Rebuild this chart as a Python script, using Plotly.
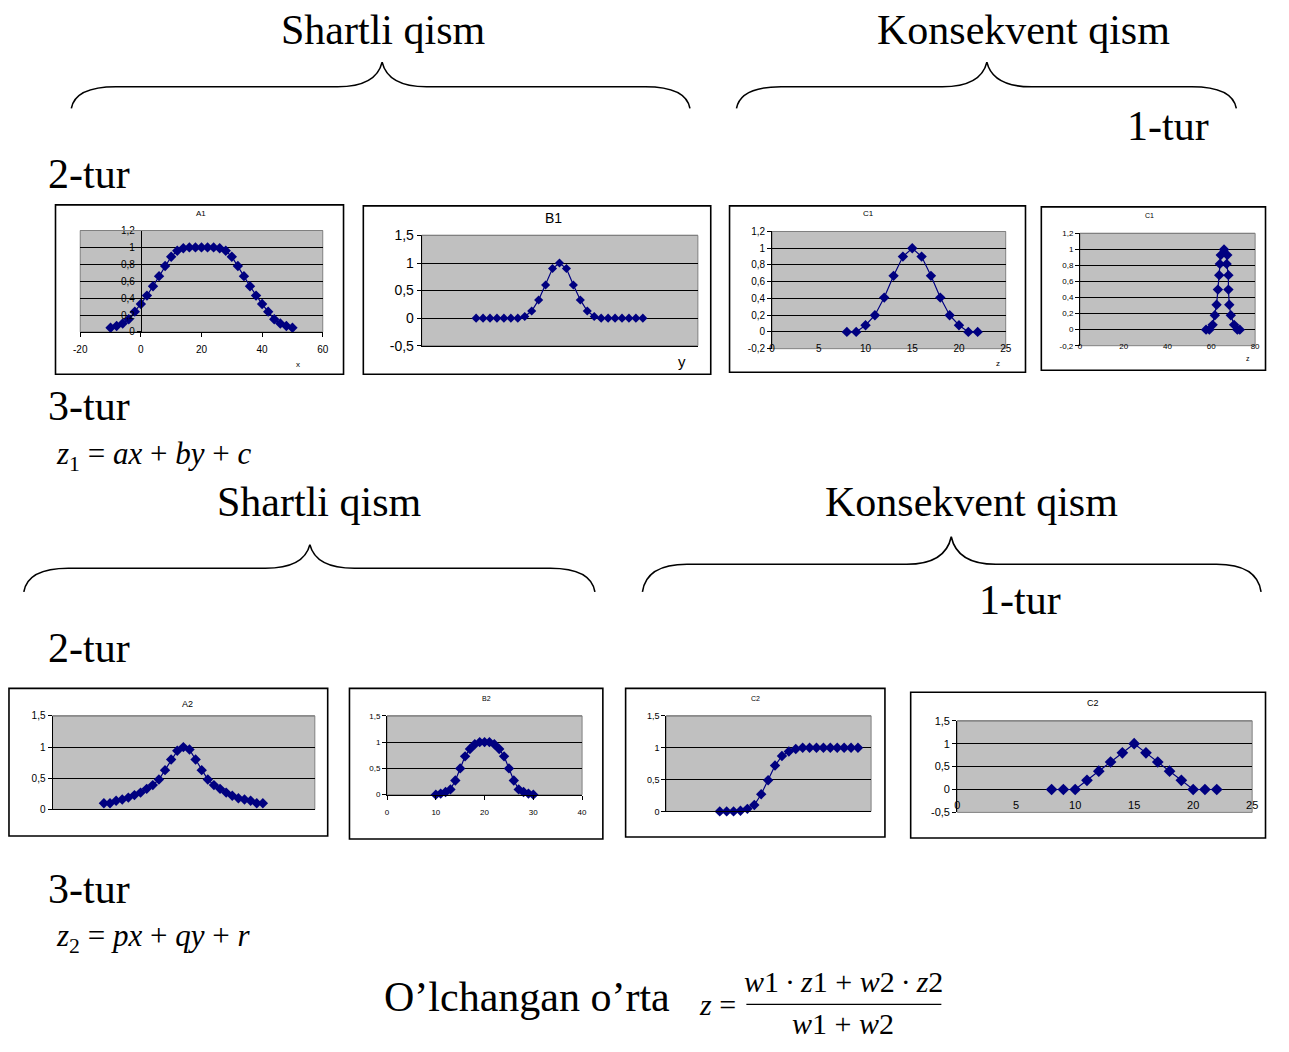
import plotly.graph_objects as go

# The page body keeps an 8px margin, so the figure is made 16px smaller than the
# window and every reference pixel position is shifted by that margin.
PAGE_W, PAGE_H = 1289, 1052
MARGIN = 8
W, H = PAGE_W - 2 * MARGIN, PAGE_H - 2 * MARGIN

# ---------------- data ----------------
a1_x = [-10, -8, -6, -4, -2, 0, 2, 4, 6, 8, 10, 12, 14, 16, 18, 20, 22, 24, 26, 28, 30,
        32, 34, 36, 38, 40, 42, 44, 46, 48, 50]
a1_y = [0.05, 0.07, 0.10, 0.15, 0.24, 0.33, 0.43, 0.54, 0.66, 0.78, 0.89, 0.96, 0.99, 1.0,
        1.0, 1.0, 1.0, 1.0, 0.99, 0.96, 0.89, 0.78, 0.66, 0.54, 0.43, 0.33, 0.24, 0.15, 0.10,
        0.07, 0.05]

b1_x = [0, 1, 2, 3, 4, 5, 6, 7, 8, 9, 10, 11, 12, 13, 14, 15, 16, 17, 18, 19, 20, 21, 22, 23, 24]
b1_y = [0, 0, 0, 0, 0, 0, 0, 0.03, 0.13, 0.33, 0.6, 0.9, 1.0, 0.9, 0.6, 0.33, 0.13, 0.03,
        0, 0, 0, 0, 0, 0, 0]

c1_x = [8, 9, 10, 11, 12, 13, 14, 15, 16, 17, 18, 19, 20, 21, 22]
c1_y = [0, 0, 0.08, 0.2, 0.41, 0.67, 0.9, 1.0, 0.9, 0.67, 0.41, 0.2, 0.08, 0, 0]

c1b_x = [57.6, 59.1, 60.6, 61.6, 62.4, 63.0, 63.6, 63.9, 64.3, 65.8, 67.3, 67.0, 67.8, 67.8,
         68.2, 68.9, 70.4, 71.9, 73.0]
c1b_y = [0.0, 0.0, 0.06, 0.18, 0.31, 0.5, 0.68, 0.82, 0.93, 1.0, 0.93, 0.82, 0.68, 0.5,
         0.31, 0.18, 0.06, 0.0, 0.0]

a2_x = [0, 1, 2, 3, 4, 5, 6, 7, 8, 9, 10, 11, 12, 13, 14, 15, 16, 17, 18, 19, 20, 21, 22,
        23, 24, 25, 26]
a2_y = [0.10, 0.10, 0.14, 0.16, 0.19, 0.23, 0.27, 0.33, 0.39, 0.48, 0.63, 0.80, 0.94, 1.0,
        0.96, 0.80, 0.63, 0.48, 0.39, 0.33, 0.27, 0.22, 0.18, 0.16, 0.14, 0.10, 0.10]

b2_x = [10, 11, 12, 13, 14, 15, 16, 17, 18, 19, 20, 21, 22, 23, 24, 25, 26, 27, 28, 29, 30]
b2_y = [0, 0.02, 0.05, 0.1, 0.27, 0.5, 0.73, 0.87, 0.96, 1.0, 1.0, 1.0, 0.96, 0.87, 0.73,
        0.5, 0.27, 0.1, 0.05, 0.02, 0]

c2_x = [0, 1, 2, 3, 4, 5, 6, 7, 8, 9, 10, 11, 12, 13, 14, 15, 16, 17, 18, 19, 20]
c2_y = [0, 0, 0, 0.01, 0.04, 0.1, 0.27, 0.49, 0.72, 0.87, 0.94, 0.98, 1.0, 1.0, 1.0, 1.0,
        1.0, 1.0, 1.0, 1.0, 1.0]

c2b_x = [8, 9, 10, 11, 12, 13, 14, 15, 16, 17, 18, 19, 20, 21, 22]
c2b_y = [0, 0, 0, 0.2, 0.4, 0.6, 0.8, 1.0, 0.8, 0.6, 0.4, 0.2, 0, 0, 0]

# tick values / labels
y12_vals = [-0.2, 0, 0.2, 0.4, 0.6, 0.8, 1.0, 1.2]
y12_text = ["-0,2", "0", "0,2", "0,4", "0,6", "0,8", "1", "1,2"]
y15_vals = [-0.5, 0, 0.5, 1.0, 1.5]
y15_text = ["-0,5", "0", "0,5", "1", "1,5"]
xa1_vals = [-20, 0, 20, 40, 60]
xa1_text = ["-20", "0", "20", "40", "60"]
xz_vals = [0, 5, 10, 15, 20, 25]
xz_text = ["0", "5", "10", "15", "20", "25"]
xz80_vals = [0, 20, 40, 60, 80]
xz80_text = ["0", "20", "40", "60", "80"]
xb2_vals = [0, 10, 20, 30, 40]
xb2_text = ["0", "10", "20", "30", "40"]

NAVY = "#000080"
PLOTBG = "#C0C0C0"
SANS = "Liberation Sans, Arial, sans-serif"
SERIF = "Liberation Serif, Times New Roman, serif"


def fx(x):
    return (x - MARGIN) / W


def fy(y):
    return 1 - (y - MARGIN) / H


RIGHT_EDGE = MARGIN + W - 1.5  # keep frames at the right border inside the figure

charts = [
    dict(x=a1_x, y=a1_y, plot=(82, 234, 327, 337), frame=(57, 208, 348, 380),
         xr=[-20, 60], yr=[0, 1.2], ymin=0, xt=(xa1_vals, xa1_text), yaxis_at=0,
         title="A1", tpos=(204, 217), tsize=8, fsize=10, msize=8, label=("x", 302, 370, 8),
         xline=True, stand=4),
    dict(x=b1_x, y=b1_y, plot=(427, 239, 706, 351), frame=(368, 209, 719, 380),
         xr=[-7.83, 31.92], yr=[-0.5, 1.5], ymin=-0.5, xt=None, yaxis_at=None,
         title="B1", tpos=(560, 221), tsize=14, fsize=14, msize=7, label=("y", 690, 367, 15),
         xline=True, stand=0),
    dict(x=c1_x, y=c1_y, plot=(781, 235, 1017, 354), frame=(738, 209, 1037, 378),
         xr=[0, 25], yr=[-0.2, 1.2], ymin=-0.2, xt=(xz_vals, xz_text), yaxis_at=None,
         title="C1", tpos=(878, 217), tsize=8, fsize=10, msize=8, label=("z", 1009, 369, 8),
         xline=False, stand=-8),
    dict(x=c1b_x, y=c1b_y, plot=(1092, 237, 1269, 351), frame=(1053, 210, RIGHT_EDGE, 376),
         xr=[0, 80], yr=[-0.2, 1.2], ymin=-0.2, xt=(xz80_vals, xz80_text), yaxis_at=None,
         title="C1", tpos=(1162, 219), tsize=7, fsize=8, msize=8, label=("z", 1262, 364, 7),
         xline=False, stand=-6),
    dict(x=a2_x, y=a2_y, plot=(54, 727, 319, 822), frame=(10, 699, 332, 849),
         xr=[-8.4, 34.5], yr=[0, 1.5], ymin=0, xt=None, yaxis_at=None,
         title="A2", tpos=(190, 715), tsize=9, fsize=10, msize=8, label=None,
         xline=True, stand=0),
    dict(x=b2_x, y=b2_y, plot=(392, 727, 589, 807), frame=(354, 699, 610, 852),
         xr=[0, 40], yr=[0, 1.5], ymin=0, xt=(xb2_vals, xb2_text), yaxis_at=None,
         title="B2", tpos=(492, 709), tsize=7, fsize=8, msize=8, label=None,
         xline=True, stand=6),
    dict(x=c2_x, y=c2_y, plot=(674, 727, 881, 824), frame=(633, 699, 895, 850),
         xr=[-7.75, 21.9], yr=[0, 1.5], ymin=0, xt=None, yaxis_at=None,
         title="C2", tpos=(764, 709), tsize=7, fsize=9, msize=8, label=None,
         xline=True, stand=0),
    dict(x=c2b_x, y=c2b_y, plot=(968, 732, 1266, 825), frame=(921, 703, RIGHT_EDGE, 851),
         xr=[0, 25], yr=[-0.5, 1.5], ymin=-0.5, xt=(xz_vals, xz_text), yaxis_at=None,
         title="C2", tpos=(1105, 714), tsize=9, fsize=11, msize=9, label=None,
         xline=False, stand=-15),
]

fig = go.Figure()
layout = dict(
    width=W, height=H, margin=dict(l=0, r=0, t=0, b=0),
    paper_bgcolor="white", plot_bgcolor=PLOTBG, showlegend=False,
)
shapes = []
annotations = []

for i, c in enumerate(charts, start=1):
    sx = "" if i == 1 else str(i)
    xname, yname = "x" + sx, "y" + sx
    l, t, r, b = c["plot"]
    xdom = [fx(l), fx(r)]
    ydom = [fy(b), fy(t)]

    fig.add_trace(go.Scatter(
        x=c["x"], y=c["y"], xaxis=xname, yaxis=yname, mode="lines+markers",
        line=dict(color=NAVY, width=1.2),
        marker=dict(symbol="diamond", size=c["msize"], color=NAVY),
        hoverinfo="skip", cliponaxis=False,
    ))

    yvals = y12_vals if c["yr"][1] == 1.2 else y15_vals
    ytext = y12_text if c["yr"][1] == 1.2 else y15_text
    yv = [v for v in yvals if v >= c["ymin"] - 1e-9]
    yt = [ytext[k] for k, v in enumerate(yvals) if v >= c["ymin"] - 1e-9]

    yax = dict(
        domain=ydom, range=c["yr"], tickvals=yv, ticktext=yt,
        showgrid=True, gridcolor="black", gridwidth=1, zeroline=False,
        showline=True, linecolor="black", linewidth=1,
        ticks="outside", ticklen=4, tickcolor="black",
        tickfont=dict(family=SANS, size=c["fsize"], color="black"),
        fixedrange=True,
    )
    if c["yaxis_at"] is not None:
        frac = (c["yaxis_at"] - c["xr"][0]) / (c["xr"][1] - c["xr"][0])
        yax["anchor"] = "free"
        yax["position"] = xdom[0] + frac * (xdom[1] - xdom[0])
    else:
        yax["anchor"] = xname

    xax = dict(
        domain=xdom, range=c["xr"], anchor=yname, showgrid=False, zeroline=False,
        showline=c["xline"], linecolor="black", linewidth=1, fixedrange=True,
    )
    if c["xt"] is not None:
        xax.update(tickvals=c["xt"][0], ticktext=c["xt"][1],
                   ticks="outside" if c["xline"] else "", ticklen=4, tickcolor="black",
                   showticklabels=True, ticklabelstandoff=c["stand"],
                   tickfont=dict(family=SANS, size=c["fsize"], color="black"))
    else:
        xax.update(showticklabels=False, ticks="")

    layout["xaxis" + sx] = xax
    layout["yaxis" + sx] = yax

    # plot-area border (gray)
    shapes.append(dict(type="rect", xref=xname + " domain", yref=yname + " domain",
                       x0=0, x1=1, y0=0, y1=1, line=dict(color="#808080", width=1),
                       layer="below"))
    shapes.append(dict(type="line", xref=xname + " domain", yref=yname + " domain",
                       x0=0, x1=1, y0=1, y1=1, line=dict(color="#808080", width=1.2),
                       layer="above"))
    # chart frame
    fl, ft, fr, fb = c["frame"]
    shapes.append(dict(type="rect", xref="paper", yref="paper",
                       x0=fx(fl), x1=fx(fr), y0=fy(fb), y1=fy(ft),
                       line=dict(color="black", width=1.6), layer="above"))
    # title
    annotations.append(dict(text=c["title"], x=fx(c["tpos"][0]), y=fy(c["tpos"][1]),
                            xref="paper", yref="paper", showarrow=False,
                            xanchor="center", yanchor="middle",
                            font=dict(family=SANS, size=c["tsize"], color="black")))
    if c["label"]:
        txt_, lx, ly, ls = c["label"]
        annotations.append(dict(text=txt_, x=fx(lx), y=fy(ly), xref="paper", yref="paper",
                                showarrow=False, xanchor="center", yanchor="middle",
                                font=dict(family=SANS, size=ls, color="black")))


def brace(xl, xr, xm, ye, yh, yt, r=45, r2=45):
    p = [
        ("M", [(xl, ye)]),
        ("Q", [(xl + 4, yh), (xl + r, yh)]),
        ("L", [(xm - r2, yh)]),
        ("Q", [(xm - 6, yh), (xm, yt)]),
        ("Q", [(xm + 6, yh), (xm + r2, yh)]),
        ("L", [(xr - r, yh)]),
        ("Q", [(xr - 4, yh), (xr, ye)]),
    ]
    s = ""
    for cmd, pts in p:
        s += cmd + " " + " ".join("%.5f,%.5f" % (fx(a), fy(bb)) for a, bb in pts) + " "
    return dict(type="path", xref="paper", yref="paper", path=s.strip(),
                line=dict(color="black", width=1.6), layer="above")


shapes.append(brace(73, 698, 387, 110, 88, 63))
shapes.append(brace(745, 1250, 998, 110, 88, 63))
shapes.append(brace(25, 602, 314, 601, 577, 553))
shapes.append(brace(650, 1275, 962, 601, 573, 545))


def txt(s, x, y, size=42, xanchor="center", family=SERIF, yanchor="middle"):
    annotations.append(dict(text=s, x=fx(x), y=fy(y), xref="paper", yref="paper",
                            showarrow=False, xanchor=xanchor, yanchor=yanchor,
                            font=dict(family=family, size=size, color="black")))


txt("Shartli qism", 388, 30)
txt("Konsekvent qism", 1035, 30)
txt("1-tur", 1181, 128)
txt("2-tur", 91, 177)
txt("3-tur", 91, 412)
txt("<i>z</i><sub>1</sub> = <i>ax</i> + <i>by</i> + <i>c</i>", 55, 463, size=31, xanchor="left")
txt("Shartli qism", 324, 510)
txt("Konsekvent qism", 982, 510)
txt("1-tur", 1031, 609)
txt("2-tur", 91, 658)
txt("3-tur", 91, 903)
txt("<i>z</i><sub>2</sub> = <i>px</i> + <i>qy</i> + <i>r</i>", 55, 953, size=31, xanchor="left")
txt("O\u2019lchangan o\u2019rta", 533, 1013)
txt("<i>z</i> =", 705, 1020, size=30, xanchor="left")
txt("<i>w</i>1\u2009\u00b7\u2009<i>z</i>1 + <i>w</i>2\u2009\u00b7\u2009<i>z</i>2", 853, 997, size=30)
txt("<i>w</i>1 + <i>w</i>2", 853, 1039, size=30)
shapes.append(dict(type="line", xref="paper", yref="paper", x0=fx(755), x1=fx(952),
                   y0=fy(1020), y1=fy(1020), line=dict(color="black", width=1.2)))

layout["shapes"] = shapes
layout["annotations"] = annotations
fig.update_layout(**layout)
fig.write_html("out.html")
